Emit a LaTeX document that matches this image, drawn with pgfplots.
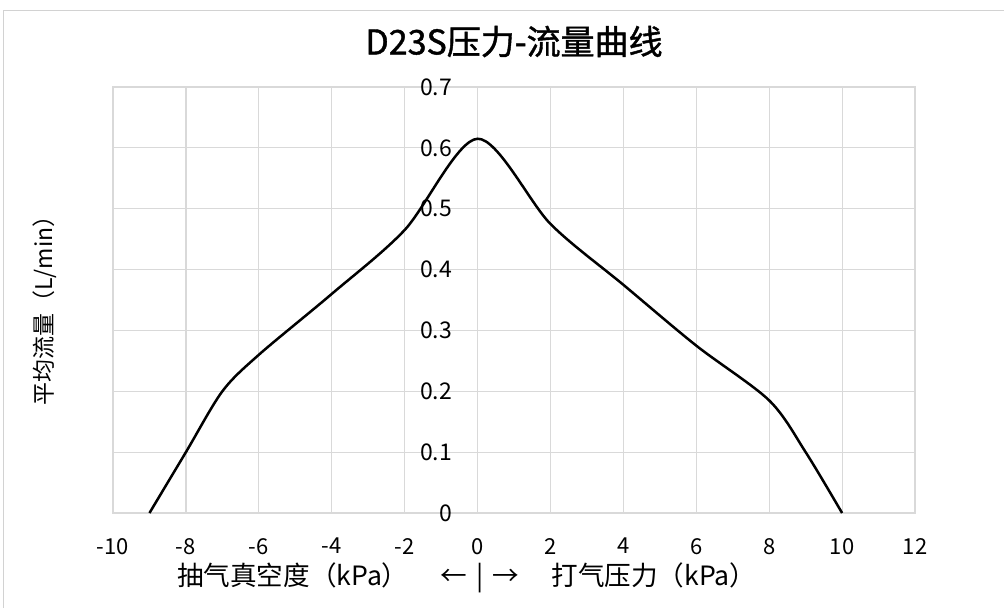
\documentclass[border=0pt]{standalone}
\usepackage{fontspec}
\setmainfont{Noto Sans CJK SC}
\newfontfamily\titlefont{Noto Sans CJK SC}[FakeBold=1.2]
\usepackage{pgfplots}
\pgfplotsset{compat=1.18}

\definecolor{gridgray}{HTML}{D9D9D9}

\begin{document}
\begin{tikzpicture}
\useasboundingbox (-56.5pt,-47pt) rectangle (445.5pt,256.5pt);
\draw[gray!35] (-55pt,-80pt) rectangle (480pt,251.5pt);
\begin{axis}[
    at={(0,0)}, anchor=south west,
    scale only axis,
    width=401pt, height=213pt,
    xmin=-10, xmax=12,
    ymin=0, ymax=0.7,
    xtick={-10,-8,...,12},
    ytick={0,0.1,...,0.7},
    grid=major,
    grid style={gridgray, line width=0.6pt},
    axis line style={gridgray, line width=0.6pt},
    major tick length=0pt,
    /pgf/number format/assume math mode=true,
    yticklabel style={/pgf/number format/fixed, /pgf/number format/precision=1,
        anchor=east, xshift=173pt, font=\fontsize{11.5}{13}\selectfont},
    xticklabel style={font=\fontsize{11}{13}\selectfont, yshift=-9pt},
    title={D23S压力-流量曲线},
    every axis title/.style={at={(rel axis cs:0.5,1)}, anchor=center, yshift=22.75pt,
        font=\titlefont\fontsize{17}{20}\selectfont},
    xlabel={抽气真空度（kPa）\hspace{1.2em}←\hspace{0.35em}|\hspace{0.35em}→\hspace{1.2em}打气压力（kPa）},
    every axis x label/.style={at={(rel axis cs:0.441,0)}, anchor=center, yshift=-32.5pt,
        font=\fontsize{13.3}{15}\selectfont},
    ylabel={平均流量（L/min）},
    every axis y label/.style={at={(rel axis cs:0,0.488)}, anchor=center, xshift=-34pt, rotate=90,
        font=\fontsize{11.5}{13}\selectfont},
]
\addplot[black, line width=1.25pt, smooth, tension=0.5] coordinates {
    (-9,0) (-8,0.1) (-7,0.2) (-6,0.26) (-4,0.36) (-2,0.465) (0,0.615)
    (2,0.475) (4,0.375) (6,0.275) (8,0.185) (9,0.1) (10,0)
};
\end{axis}
\end{tikzpicture}
\end{document}
